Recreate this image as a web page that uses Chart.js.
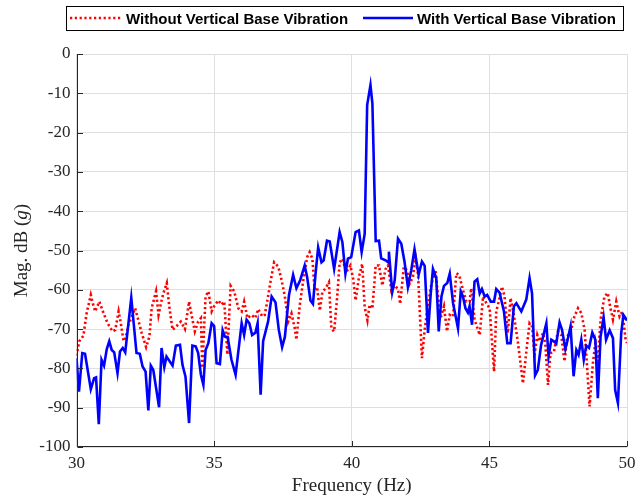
<!DOCTYPE html>
<html><head><meta charset="utf-8">
<script src="https://cdn.jsdelivr.net/npm/chart.js@4/dist/chart.umd.min.js"></script>
<style>html,body{margin:0;padding:0;background:#fff}#wrap{width:644px;height:497px}</style>
</head><body><div id="wrap"><canvas id="c" width="644" height="497"></canvas></div>
<script>
const seriesNames = ['Without Vertical Base Vibration', 'With Vertical Base Vibration'];
const xTicks = [30, 35, 40, 45, 50];
const yTicks = [0, -10, -20, -30, -40, -50, -60, -70, -80, -90, -100];

const freqWithout = [30.0,30.1,30.25,30.37,30.52,30.59,30.68,30.83,30.98,31.13,31.31,31.41,31.53,31.61,31.71,31.81,31.89,32.13,32.37,32.53,32.65,32.73,32.89,32.98,33.1,33.16,33.28,33.37,33.49,33.64,33.79,33.94,34.09,34.18,34.3,34.42,34.52,34.57,34.69,34.79,34.91,35.0,35.15,35.27,35.37,35.48,35.6,35.73,35.88,36.0,36.09,36.21,36.36,36.5,36.6,36.75,36.84,36.94,37.06,37.18,37.33,37.45,37.57,37.69,37.81,37.93,37.99,38.11,38.23,38.38,38.47,38.57,38.65,38.74,38.84,38.93,39.05,39.17,39.26,39.36,39.47,39.56,39.66,39.8,39.95,40.05,40.14,40.26,40.38,40.47,40.57,40.65,40.75,40.87,40.99,41.11,41.23,41.32,41.44,41.56,41.68,41.76,41.89,42.01,42.1,42.22,42.32,42.41,42.55,42.65,42.75,42.89,43.04,43.13,43.23,43.35,43.46,43.56,43.68,43.8,43.9,44.04,44.16,44.28,44.34,44.46,44.65,44.77,44.89,45.01,45.17,45.25,45.34,45.46,45.55,45.67,45.77,45.89,46.04,46.22,46.36,46.46,46.55,46.64,46.74,46.82,46.95,47.03,47.13,47.22,47.34,47.49,47.61,47.73,47.83,47.97,48.09,48.22,48.34,48.46,48.55,48.64,48.76,48.85,48.94,49.04,49.18,49.3,49.4,49.49,49.61,49.73,49.83,49.95,50.0];
const magWithout = [-76.8,-73.1,-71.7,-65.9,-61.3,-63.4,-65.5,-63.0,-65.9,-68.5,-70.6,-70.2,-65.5,-68.5,-73.1,-71.5,-68.9,-64.7,-71.0,-74.6,-71.9,-64.7,-60.4,-66.4,-62.4,-60.8,-58.3,-64.2,-70.2,-69.2,-68.1,-70.0,-63.0,-66.4,-70.6,-68.1,-67.2,-79.9,-61.7,-60.4,-65.5,-64.2,-62.7,-63.8,-63.0,-76.5,-59.0,-60.4,-64.7,-65.5,-63.0,-67.2,-66.4,-67.2,-64.9,-66.8,-66.4,-62.5,-57.5,-53.0,-54.1,-57.5,-61.7,-68.1,-66.0,-69.8,-72.7,-64.0,-58.0,-51.7,-50.4,-52.1,-59.8,-59.3,-65.3,-60.6,-59.6,-58.1,-69.9,-70.6,-61.9,-53.0,-52.1,-55.5,-53.8,-57.2,-62.7,-56.8,-53.4,-64.4,-67.8,-63.8,-64.8,-53.8,-53.8,-58.9,-54.7,-53.8,-60.2,-58.9,-59.8,-63.6,-54.2,-55.1,-58.5,-56.8,-51.8,-56.2,-77.4,-70.2,-64.7,-58.7,-54.9,-61.3,-67.2,-64.2,-70.6,-66.4,-66.8,-55.8,-56.2,-60.0,-63.0,-63.0,-59.6,-67.6,-71.5,-61.7,-63.4,-64.7,-80.8,-65.5,-63.0,-59.2,-61.7,-71.0,-62.1,-66.4,-73.6,-83.8,-74.6,-68.5,-69.3,-76.5,-71.5,-73.1,-71.0,-73.6,-84.2,-76.1,-75.9,-70.6,-71.5,-78.2,-71.9,-70.2,-66.8,-64.7,-65.9,-70.2,-79.5,-89.7,-78.7,-73.6,-78.2,-67.6,-61.7,-60.8,-64.7,-67.6,-63.0,-66.8,-65.5,-72.7,-73.5];

const freqWith = [30.0,30.09,30.21,30.31,30.52,30.64,30.71,30.81,30.91,31.0,31.1,31.19,31.28,31.37,31.49,31.58,31.68,31.77,31.99,32.18,32.3,32.4,32.51,32.61,32.7,32.79,33.0,33.09,33.19,33.27,33.49,33.61,33.76,33.85,33.96,34.09,34.21,34.33,34.42,34.52,34.61,34.69,34.79,34.91,35.0,35.09,35.21,35.31,35.39,35.49,35.63,35.78,36.0,36.09,36.18,36.28,36.38,36.5,36.58,36.69,36.78,36.96,37.09,37.23,37.35,37.47,37.57,37.72,37.87,37.99,38.13,38.29,38.38,38.5,38.59,38.69,38.78,38.9,38.98,39.1,39.2,39.36,39.56,39.66,39.77,39.86,39.98,40.14,40.26,40.36,40.47,40.56,40.68,40.75,40.87,40.99,41.07,41.23,41.32,41.35,41.47,41.56,41.68,41.8,41.92,42.04,42.16,42.28,42.43,42.55,42.65,42.77,42.87,42.95,43.07,43.16,43.26,43.35,43.47,43.56,43.68,43.86,43.96,44.04,44.13,44.22,44.28,44.37,44.46,44.56,44.65,44.73,44.83,44.92,45.05,45.17,45.25,45.37,45.53,45.65,45.77,45.89,45.98,46.16,46.34,46.46,46.55,46.66,46.76,46.88,47.07,47.15,47.25,47.34,47.43,47.55,47.64,47.76,47.83,47.95,48.06,48.16,48.24,48.34,48.43,48.52,48.62,48.74,48.85,48.94,49.04,49.15,49.24,49.37,49.49,49.57,49.67,49.79,49.87,50.0];
const magWith = [-77.4,-85.9,-76.1,-76.3,-85.3,-82.5,-82.3,-94.2,-77.8,-79.3,-75.1,-73.1,-75.3,-75.9,-81.2,-75.7,-74.8,-75.9,-62.0,-76.1,-76.3,-79.5,-80.8,-90.7,-79.3,-80.4,-89.9,-74.8,-79.7,-77.0,-79.3,-74.2,-74.0,-79.1,-82.1,-93.9,-74.2,-74.4,-76.1,-81.6,-84.2,-75.3,-73.6,-68.5,-69.2,-78.7,-78.9,-70.3,-71.9,-72.0,-77.8,-81.6,-68.5,-71.5,-67.6,-68.5,-71.5,-70.9,-68.5,-86.7,-73.1,-68.1,-61.7,-63.2,-70.2,-74.6,-72.0,-61.3,-56.2,-59.6,-57.5,-53.8,-56.8,-62.7,-63.6,-55.5,-49.2,-53.0,-52.5,-47.5,-47.7,-54.7,-45.3,-47.9,-55.9,-52.1,-51.7,-45.3,-44.9,-50.4,-45.8,-13.0,-7.9,-12.6,-47.6,-47.5,-52.0,-52.5,-53.0,-50.3,-60.6,-57.6,-47.0,-48.3,-53.0,-59.3,-55.1,-49.7,-56.2,-52.8,-53.9,-71.0,-60.9,-54.7,-57.0,-70.6,-61.7,-59.0,-58.3,-55.9,-63.4,-69.8,-60.4,-61.7,-64.7,-65.8,-64.2,-68.9,-57.9,-57.3,-60.9,-59.8,-61.7,-61.3,-63.0,-63.0,-59.8,-60.7,-65.5,-73.6,-73.6,-64.2,-63.4,-65.5,-62.5,-57.0,-60.9,-81.8,-80.4,-74.0,-68.5,-77.0,-72.7,-73.1,-73.7,-68.3,-70.2,-75.1,-73.1,-69.3,-82.0,-75.3,-76.5,-72.7,-77.8,-74.2,-74.8,-70.9,-72.7,-87.6,-71.9,-67.0,-72.7,-70.3,-72.3,-85.5,-88.8,-71.0,-66.4,-67.8];

const toPts = (xs, ys) => xs.map((x, i) => ({x: x, y: ys[i]}));
const AXIS = '#262626';
const SERIF = '"Liberation Serif", "Times New Roman", serif';

const deco = {
  id: 'deco',
  beforeDraw(chart) {
    const c = chart.ctx;
    c.save(); c.fillStyle = '#fff'; c.fillRect(0, 0, chart.width, chart.height); c.restore();
  },
  afterDraw(chart) {
    const c = chart.ctx, a = chart.chartArea;
    const xs = chart.scales.x, ys = chart.scales.y;
    c.save();
    c.strokeStyle = AXIS; c.lineWidth = 1;
    c.beginPath();
    const L = Math.round(a.left) + 0.5, B = Math.round(a.bottom) - 0.5;
    c.moveTo(L, Math.round(a.top)); c.lineTo(L, B); c.lineTo(Math.round(a.right), B);
    xTicks.forEach(v => { const p = Math.round(xs.getPixelForValue(v)) + 0.5; c.moveTo(p, B); c.lineTo(p, B - 5.5); });
    yTicks.forEach(v => { const p = Math.round(ys.getPixelForValue(v)) + 0.5; c.moveTo(L, p); c.lineTo(L + 5.5, p); });
    c.stroke();
    // y title with italic g
    c.fillStyle = AXIS;
    c.translate(22, (a.top + a.bottom) / 2);
    c.rotate(-Math.PI / 2);
    const fN = '19px ' + SERIF, fI = 'italic 19px ' + SERIF;
    const parts = [['Mag. dB (', fN], ['g', fI], [')', fN]];
    let tw = 0;
    parts.forEach(p => { c.font = p[1]; tw += c.measureText(p[0]).width; });
    let x0 = -tw / 2;
    c.textBaseline = 'middle'; c.textAlign = 'left';
    parts.forEach(p => { c.font = p[1]; c.fillText(p[0], x0, 0); x0 += c.measureText(p[0]).width; });
    c.restore();
    // legend
    c.save();
    c.fillStyle = '#fff'; c.fillRect(66, 6, 558, 25);
    c.strokeStyle = '#000'; c.lineWidth = 1; c.strokeRect(66.5, 6.5, 557, 24);
    const ly = 18;
    c.strokeStyle = '#ff0000'; c.lineWidth = 2.6; c.setLineDash([2.2, 2.6]);
    c.beginPath(); c.moveTo(70, ly); c.lineTo(122, ly); c.stroke();
    c.setLineDash([]);
    c.strokeStyle = '#0000ff';
    c.beginPath(); c.moveTo(363, ly); c.lineTo(413, ly); c.stroke();
    c.fillStyle = '#000'; c.font = 'bold 15px "Liberation Sans", Arial, sans-serif';
    c.textBaseline = 'alphabetic'; c.textAlign = 'left';
    c.fillText(seriesNames[0], 126, 24);
    c.fillText(seriesNames[1], 417, 24);
    c.restore();
  }
};

new Chart(document.getElementById('c').getContext('2d'), {
  type: 'scatter',
  data: {
    datasets: [
      {label: seriesNames[1], data: toPts(freqWith, magWith), showLine: true, borderColor: '#0000ff', backgroundColor: '#0000ff', borderWidth: 2.6, pointRadius: 0, tension: 0, order: 0},
      {label: seriesNames[0], data: toPts(freqWithout, magWithout), showLine: true, borderColor: '#ff0000', backgroundColor: '#ff0000', borderWidth: 2.6, borderDash: [2.2, 2.6], pointRadius: 0, tension: 0, order: 1}
    ]
  },
  options: {
    responsive: false, animation: false, devicePixelRatio: 1,
    layout: {padding: {left: 0, right: 17, top: 54, bottom: 0}},
    plugins: {legend: {display: false}, tooltip: {enabled: false}},
    scales: {
      x: {
        type: 'linear', min: 30, max: 50,
        afterBuildTicks: s => { s.ticks = xTicks.map(v => ({value: v})); },
        grid: {color: '#dfdfdf', drawTicks: false},
        border: {display: false},
        ticks: {font: {family: SERIF, size: 17}, color: AXIS, padding: 6, maxRotation: 0, autoSkip: false},
        title: {display: true, text: 'Frequency (Hz)', font: {family: SERIF, size: 19}, color: AXIS, padding: {top: 0, bottom: 0}},
        afterFit: s => { s.height = 50; }
      },
      y: {
        type: 'linear', min: -100, max: 0,
        afterBuildTicks: s => { s.ticks = yTicks.map(v => ({value: v})); },
        grid: {color: '#dfdfdf', drawTicks: false},
        border: {display: false},
        ticks: {font: {family: SERIF, size: 17}, color: AXIS, padding: 6, autoSkip: false},
        title: {display: false},
        afterFit: s => { s.width = 76.5; }
      }
    }
  },
  plugins: [deco]
});
</script></body></html>
